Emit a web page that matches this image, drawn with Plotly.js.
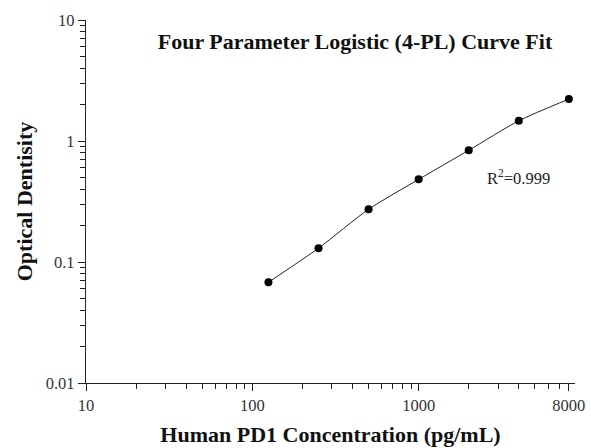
<!DOCTYPE html>
<html>
<head>
<meta charset="utf-8">
<script src="https://cdn.plot.ly/plotly-3.0.1.min.js"></script>
<style>html,body{margin:0;padding:0;background:#fff;}#chart{width:591px;height:448px;}</style>
</head>
<body>
<div id="chart"></div>
<script>
// Data
const concentration = [125, 250, 500, 1000, 2000, 4000, 8000];
const opticalDensity = [0.068, 0.130, 0.273, 0.482, 0.838, 1.47, 2.22];
const xTickVals = [10, 100, 1000, 8000];
const xTickText = ['10', '100', '1000', '8000'];
const yTickVals = [0.01, 0.1, 1, 10];
const yTickText = ['0.01', '0.1', '1', '10'];

const serif = 'Liberation Serif, Times New Roman, serif';

const traces = [
  {
    x: concentration, y: opticalDensity,
    type: 'scatter', mode: 'lines',
    line: {color: '#222', width: 1, shape: 'spline', smoothing: 0.6},
    hoverinfo: 'skip', showlegend: false
  },
  {
    x: concentration, y: opticalDensity,
    type: 'scatter', mode: 'markers',
    marker: {color: '#000', size: 8},
    showlegend: false
  }
];

const layout = {
  width: 591, height: 448,
  paper_bgcolor: '#fff', plot_bgcolor: '#fff',
  margin: {l: 86, r: 16, t: 20, b: 65},
  showlegend: false,
  font: {family: serif, color: '#222'},
  title: {
    text: '<b>Four Parameter Logistic (4-PL) Curve Fit</b>',
    font: {family: serif, size: 22, color: '#111'},
    xref: 'container', yref: 'container',
    x: 355/591, y: 1 - 41/448, xanchor: 'center', yanchor: 'middle'
  },
  xaxis: {
    type: 'log', range: [1, 3.94],
    showgrid: false, zeroline: false,
    showline: true, linecolor: '#222', linewidth: 1.2,
    ticks: 'outside', ticklen: 7, tickwidth: 1, tickcolor: '#222',
    tickvals: xTickVals, ticktext: xTickText,
    tickfont: {family: serif, size: 16.5, color: '#333'},
    minor: {ticks: 'outside', ticklen: 5, tickwidth: 1, tickcolor: '#222', dtick: 'D1', showgrid: false},
    title: {text: '<b>Human PD1 Concentration (pg/mL)</b>', font: {family: serif, size: 22, color: '#111'}, standoff: 12}
  },
  yaxis: {
    type: 'log', range: [-2, 1],
    showgrid: false, zeroline: false,
    showline: true, linecolor: '#222', linewidth: 1.2,
    ticks: 'outside', ticklen: 7, tickwidth: 1, tickcolor: '#222',
    tickvals: yTickVals, ticktext: yTickText,
    tickfont: {family: serif, size: 16.5, color: '#333'},
    minor: {ticks: 'outside', ticklen: 5, tickwidth: 1, tickcolor: '#222', dtick: 'D1', showgrid: false},
    title: {text: '<b>Optical Dentisity</b>', font: {family: serif, size: 22, color: '#111'}, standoff: 7}
  },
  annotations: [
    {
      text: 'R<sup>2</sup>=0.999',
      xref: 'paper', yref: 'paper',
      x: (518 - 86) / (575 - 86), y: (383 - 178) / (383 - 20),
      xanchor: 'center', yanchor: 'middle', showarrow: false,
      font: {family: serif, size: 16.5, color: '#222'}
    }
  ]
};

Plotly.newPlot('chart', traces, layout, {displayModeBar: false, staticPlot: true});
</script>
</body>
</html>
